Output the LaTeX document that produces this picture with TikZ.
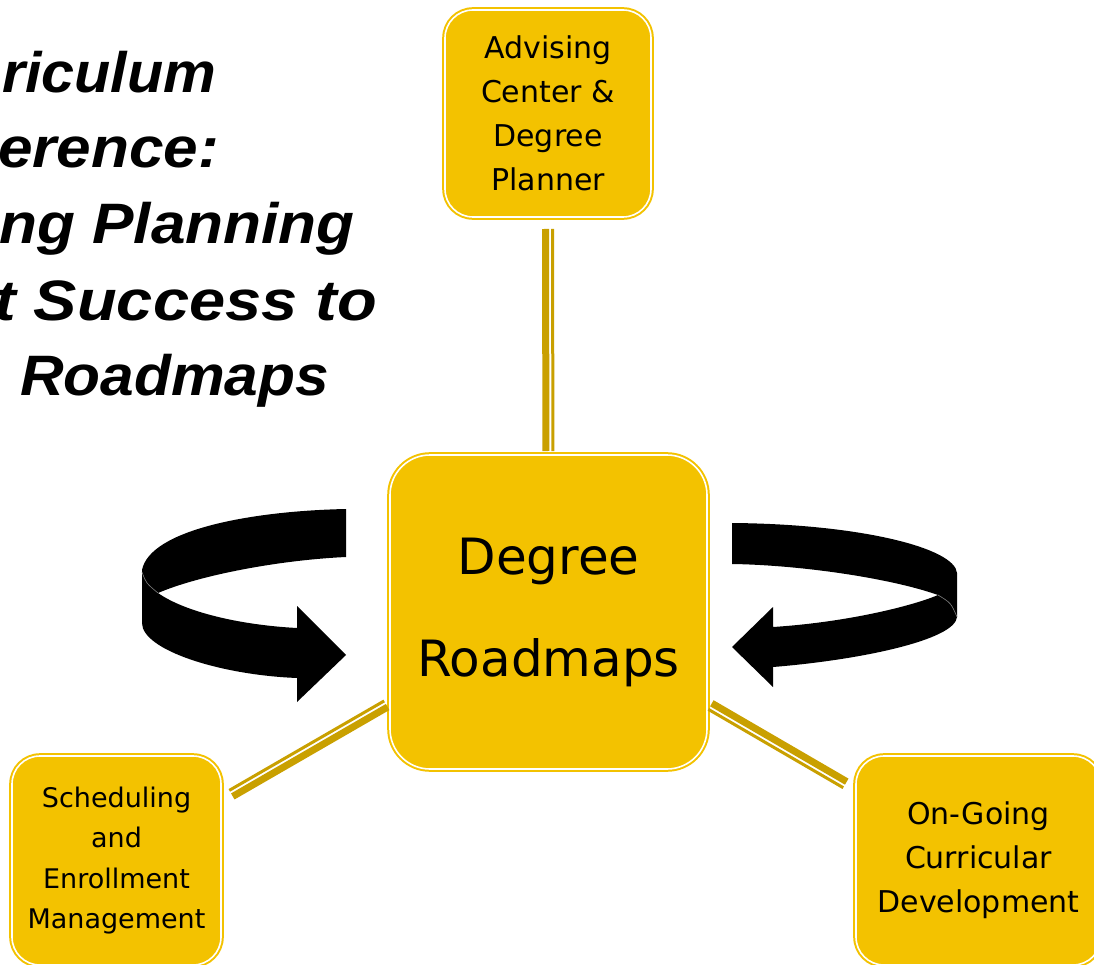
\documentclass[tikz,border=0pt]{standalone}
\usepackage{fontspec}
\setmainfont{DejaVu Sans}
\newfontfamily\headfont{Liberation Sans}
\usepackage{tikz}
\usetikzlibrary{calc}
\definecolor{tilegold}{RGB}{243,194,0}
\definecolor{linkgold}{RGB}{201,160,0}
\def\Gap{11pt}
\def\Touch{3pt}

\tikzset{
  tile/.style={rectangle, rounded corners=28pt, fill=tilegold, draw=tilegold,
    line width=2pt, double=white, double distance=1.6pt, align=center, inner sep=0pt},
  linkthick/.style={draw=linkgold, line width=7pt},
  linkthin/.style={draw=linkgold, line width=3pt},
  headline/.style={anchor=base west, inner sep=0pt,
    font=\headfont\bfseries\itshape\fontsize{57}{70}\selectfont},
}

\begin{document}
\begin{tikzpicture}[x=1pt,y=-1pt]
\useasboundingbox (0,0) rectangle (1094,965);
\clip (0,0) rectangle (1094,965);

% title, cut at the left edge
\node[headline, xscale=1.04] (head1) at (2,93) {riculum};
\node[headline, xscale=1.09] (head2) at (-2,168) {erence:};
\node[headline, xscale=1.09] (head3) at (-1,244) {ng Planning};
\node[headline, xscale=1.14] (head4) at (-6,320) {t Success to};
\node[headline, xscale=1.06] (head5) at (20,395) {Roadmaps};

% boxes
\node[tile, minimum width=206pt, minimum height=207pt, font=\fontsize{30}{44}\selectfont] (adv) at (548,113.5) {Advising\\Center \&\\Degree\\Planner};
\node[tile, rounded corners=40pt, minimum width=317pt, minimum height=314pt, font=\fontsize{50}{102}\selectfont] (road) at (548.5,612) {Degree\\Roadmaps};
\node[tile, minimum width=209pt, minimum height=209pt, font=\fontsize{27}{40.3}\selectfont] (sem) at (116.5,860.5) {Scheduling\\and\\Enrollment\\Management};
\node[tile, minimum width=245pt, minimum height=209pt, font=\fontsize{30}{44}\selectfont] (ocd) at (978.5,860.5) {On-Going\\Curricular\\Development};

% links
\draw[linkthick, transform canvas={shift={(-2.5pt,0pt)}}, shorten <=\Gap, shorten >=\Touch] (adv) -- (road);
\draw[linkthin, transform canvas={shift={(4.5pt,0pt)}}, shorten <=\Gap, shorten >=\Touch] (adv) -- (road);
\draw[linkthick, transform canvas={shift={(1.25pt,-2.17pt)}}, shorten <=\Gap, shorten >=\Touch] (sem) -- (road);
\draw[linkthin, transform canvas={shift={(-2.24pt,3.9pt)}}, shorten <=\Gap, shorten >=\Touch] (sem) -- (road);
\draw[linkthick, transform canvas={shift={(1.25pt,2.17pt)}}, shorten <=\Touch, shorten >=\Gap] (road) -- (ocd);
\draw[linkthin, transform canvas={shift={(-2.25pt,-3.9pt)}}, shorten <=\Touch, shorten >=\Gap] (road) -- (ocd);

% curved arrows
\fill (346,509) .. controls (250,511) and (150,530) .. (142,570) -- (142,623)
  .. controls (142,650) and (220,675) .. (297,678) -- (297,702) -- (346,655) -- (297,606) -- (297,628)
  .. controls (240,625) and (185,612) .. (158,593) .. controls (200,575) and (280,560) .. (346,557) -- cycle;
\draw[gray, line width=0.6pt] (142,572) .. controls (146,583) .. (158,593);

\fill (732,523) .. controls (860,524) and (955,548) .. (957,573) -- (957,617)
  .. controls (955,640) and (860,660) .. (773,667) -- (773,687) -- (732,647) -- (773,607) -- (773,627)
  .. controls (850,622) and (915,605) .. (938,595) .. controls (890,578) and (800,565) .. (732,564) -- cycle;
\draw[gray, line width=0.6pt] (938,595) .. controls (951,603) .. (957,617);
\end{tikzpicture}
\end{document}
